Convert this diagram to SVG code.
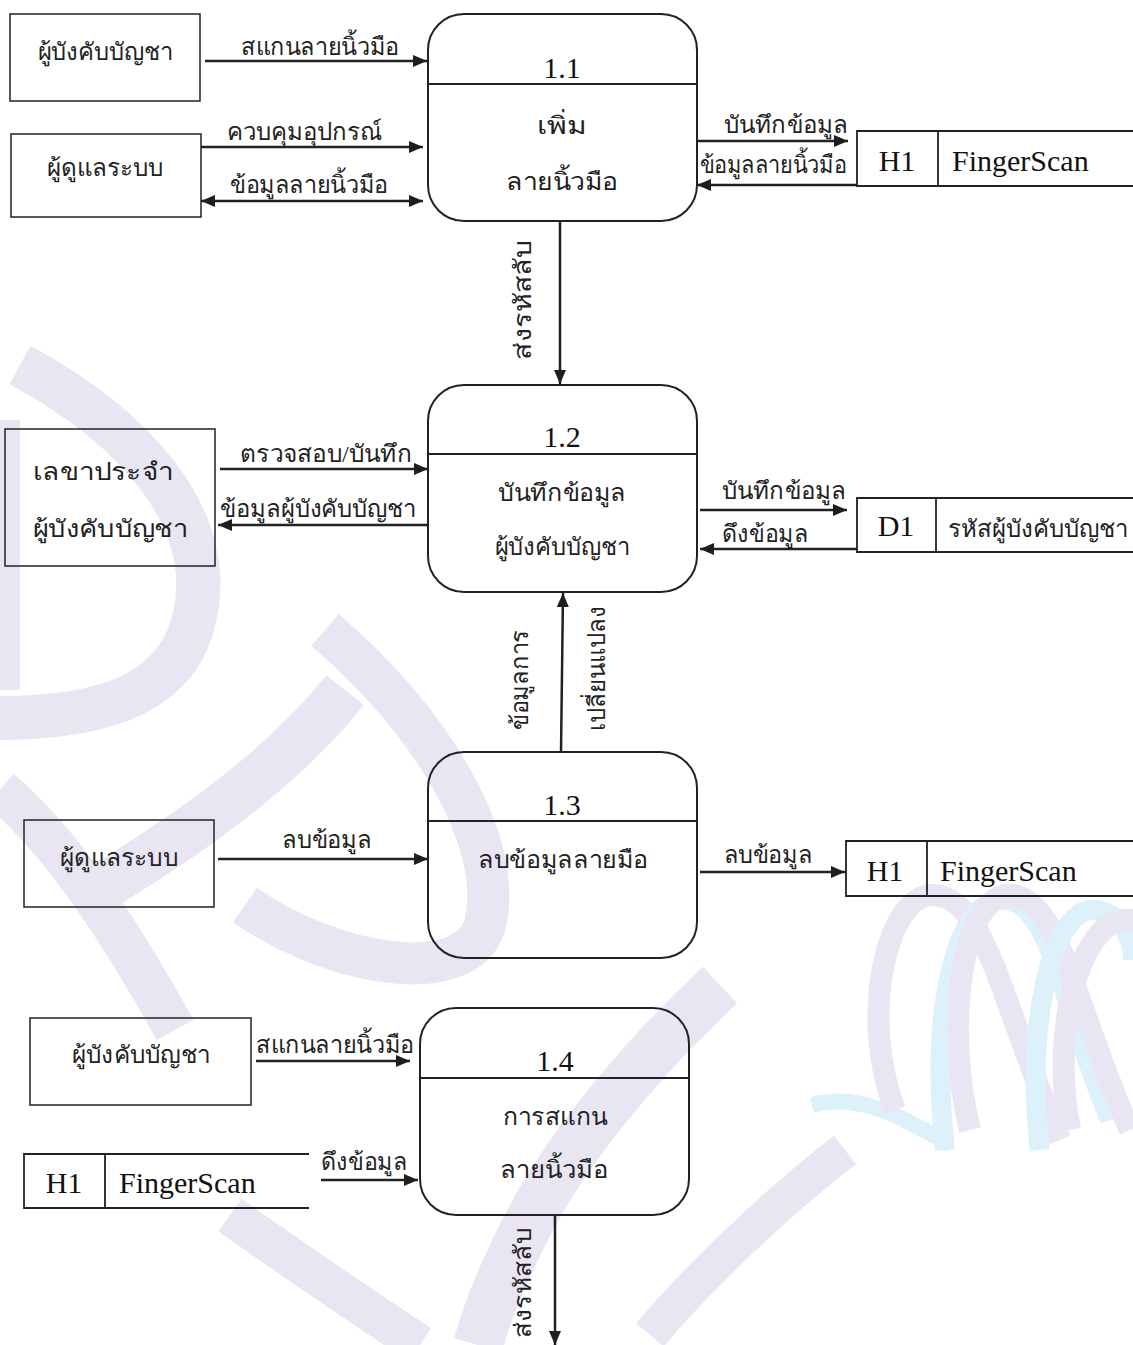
<svg xmlns="http://www.w3.org/2000/svg" width="1133" height="1345" viewBox="0 0 1133 1345">
  <defs>
    <marker id="arr" viewBox="0 0 14 12" refX="14" refY="6" markerWidth="14" markerHeight="12" markerUnits="userSpaceOnUse" orient="auto-start-reverse">
      <path d="M0,0 L14,6 L0,12 Z" fill="#1e1e1e"/>
    </marker>
    <style>
      .ent { fill: none; stroke: #222; stroke-width: 1.5; }
      .proc { fill: none; stroke: #222; stroke-width: 2; }
      .div { stroke: #222; stroke-width: 2; fill: none; }
      .st { stroke: #222; stroke-width: 1.8; fill: none; }
      .flow { stroke: #222; stroke-width: 2.5; fill: none; marker-end: url(#arr); }
      .both { marker-start: url(#arr); }
      .th { font-family: "Liberation Serif", "DejaVu Serif", "Noto Sans", serif; font-size: 24px; fill: #222; text-anchor: middle; }
      .lat { font-family: "Liberation Serif", "Times New Roman", serif; font-size: 30px; fill: #111; }
      .mid { text-anchor: middle; }
      .wm { fill: none; stroke: #e9e5f3; stroke-linecap: butt; }
      .wb { fill: none; stroke: #dcf1fa; stroke-linecap: butt; }
    </style>
  </defs>

  <rect width="1133" height="1345" fill="#fff"/>

  <!-- faint emblem in the background -->
  <g id="watermark">
    <path class="wm" stroke-width="44" d="M 20 365 C 140 430 215 520 195 615 C 180 690 110 718 0 718"/>
    <path class="wm" stroke-width="20" d="M 10 420 V 690"/>
    <path class="wm" stroke-width="42" d="M 325 630 C 430 720 505 840 485 925 C 465 990 330 965 245 905"/>
    <path class="wm" stroke-width="48" d="M 345 690 C 290 760 200 830 80 900"/>
    <path class="wm" stroke-width="42" d="M 0 790 C 60 840 120 930 175 1030"/>
    <path class="wm" stroke-width="50" d="M 720 985 C 640 1060 565 1150 525 1230 C 495 1290 485 1320 478 1345"/>
    <path class="wm" stroke-width="40" d="M 230 1215 C 300 1265 360 1305 420 1345"/>
    <path class="wm" stroke-width="36" d="M 845 1150 C 780 1200 700 1275 650 1335"/>
    <!-- ribbon loops -->
    <path class="wb" stroke-width="16" d="M 812 1105 C 860 1092 905 1118 950 1145"/>
    <path class="wm" stroke-width="22" d="M 895 1110 C 860 1020 885 900 930 895 C 985 892 1000 1000 1060 1140"/>
    <path class="wb" stroke-width="20" d="M 945 1150 C 930 1010 955 905 1000 900 C 1050 896 1060 1000 1110 1120"/>
    <path class="wm" stroke-width="22" d="M 970 1130 C 945 1030 960 905 1005 895 C 1060 890 1075 1010 1130 1130"/>
    <path class="wb" stroke-width="20" d="M 1040 1150 C 1025 1030 1050 915 1090 910 C 1120 908 1133 940 1133 960"/>
    <path class="wm" stroke-width="22" d="M 1070 1130 C 1050 1030 1080 930 1120 920 L 1133 920"/>
  </g>

  <!-- data flows -->
  <g id="connectors">
    <line class="flow" x1="205" y1="61" x2="427" y2="61"/>
    <line class="flow" x1="201" y1="147" x2="423" y2="147"/>
    <line class="flow both" x1="201" y1="201" x2="423" y2="201"/>
    <line class="flow" x1="697" y1="141" x2="848" y2="141"/>
    <line class="flow" x1="857" y1="185" x2="697" y2="185"/>
    <line class="flow" x1="560" y1="221" x2="560" y2="384"/>
    <line class="flow" x1="220" y1="469" x2="428" y2="469"/>
    <line class="flow" x1="428" y1="525" x2="218" y2="525"/>
    <line class="flow" x1="700" y1="510" x2="847" y2="510"/>
    <line class="flow" x1="857" y1="549" x2="700" y2="549"/>
    <line class="flow" x1="561" y1="752" x2="563" y2="593"/>
    <line class="flow" x1="218" y1="859" x2="428" y2="859"/>
    <line class="flow" x1="700" y1="872" x2="845" y2="872"/>
    <line class="flow" x1="256" y1="1061" x2="410" y2="1061"/>
    <line class="flow" x1="321" y1="1180" x2="418" y2="1180"/>
    <line class="flow" x1="555" y1="1215" x2="555" y2="1345"/>

    <text class="th" x="320" y="55" textLength="158" lengthAdjust="spacingAndGlyphs">สแกนลายนิ้วมือ</text>
    <text class="th" x="304" y="140" textLength="155" lengthAdjust="spacingAndGlyphs">ควบคุมอุปกรณ์</text>
    <text class="th" x="309" y="193" textLength="158" lengthAdjust="spacingAndGlyphs">ข้อมูลลายนิ้วมือ</text>
    <text class="th" x="786" y="133" textLength="124" lengthAdjust="spacingAndGlyphs">บันทึกข้อมูล</text>
    <text class="th" x="773" y="173" textLength="147" lengthAdjust="spacingAndGlyphs">ข้อมูลลายนิ้วมือ</text>
    <text class="th" transform="translate(531,300) rotate(-90)" textLength="120" lengthAdjust="spacingAndGlyphs">ส่งรหัสลับ</text>
    <text class="th" x="326" y="462" textLength="172" lengthAdjust="spacingAndGlyphs">ตรวจสอบ/บันทึก</text>
    <text class="th" x="318" y="517" textLength="196" lengthAdjust="spacingAndGlyphs">ข้อมูลผู้บังคับบัญชา</text>
    <text class="th" x="784" y="499" textLength="124" lengthAdjust="spacingAndGlyphs">บันทึกข้อมูล</text>
    <text class="th" x="765" y="542" textLength="86" lengthAdjust="spacingAndGlyphs">ดึงข้อมูล</text>
    <text class="th" transform="translate(528,680) rotate(-90)" textLength="100" lengthAdjust="spacingAndGlyphs">ข้อมูลการ</text>
    <text class="th" transform="translate(605,668) rotate(-90)" textLength="125" lengthAdjust="spacingAndGlyphs">เปลี่ยนแปลง</text>
    <text class="th" x="327" y="848" textLength="90" lengthAdjust="spacingAndGlyphs">ลบข้อมูล</text>
    <text class="th" x="768" y="863" textLength="89" lengthAdjust="spacingAndGlyphs">ลบข้อมูล</text>
    <text class="th" x="335" y="1053" textLength="158" lengthAdjust="spacingAndGlyphs">สแกนลายนิ้วมือ</text>
    <text class="th" x="364" y="1170" textLength="86" lengthAdjust="spacingAndGlyphs">ดึงข้อมูล</text>
    <text class="th" transform="translate(531,1283) rotate(-90)" textLength="110" lengthAdjust="spacingAndGlyphs">ส่งรหัสลับ</text>
  </g>

  <!-- external entities -->
  <g id="ent-commander-1">
    <rect class="ent" x="10" y="14" width="190" height="87"/>
    <text class="th" x="105" y="60" textLength="135" lengthAdjust="spacingAndGlyphs">ผู้บังคับบัญชา</text>
  </g>
  <g id="ent-admin-1">
    <rect class="ent" x="11" y="134" width="190" height="83"/>
    <text class="th" x="105" y="176" textLength="117" lengthAdjust="spacingAndGlyphs">ผู้ดูแลระบบ</text>
  </g>
  <g id="ent-secretary">
    <rect class="ent" x="5" y="429" width="210" height="137"/>
    <text class="th" x="103" y="480" textLength="140" lengthAdjust="spacingAndGlyphs">เลขาประจำ</text>
    <text class="th" x="110" y="537" textLength="155" lengthAdjust="spacingAndGlyphs">ผู้บังคับบัญชา</text>
  </g>
  <g id="ent-admin-2">
    <rect class="ent" x="24" y="820" width="190" height="87"/>
    <text class="th" x="119" y="866" textLength="118" lengthAdjust="spacingAndGlyphs">ผู้ดูแลระบบ</text>
  </g>
  <g id="ent-commander-2">
    <rect class="ent" x="30" y="1018" width="221" height="87"/>
    <text class="th" x="141" y="1063" textLength="138" lengthAdjust="spacingAndGlyphs">ผู้บังคับบัญชา</text>
  </g>

  <!-- processes -->
  <g id="proc-1-1">
    <rect class="proc" x="428" y="14" width="269" height="207" rx="36"/>
    <line class="div" x1="428" y1="84" x2="697" y2="84"/>
    <text class="lat mid" x="562" y="78" font-size="28">1.1</text>
    <text class="th" x="562" y="134" textLength="50" lengthAdjust="spacingAndGlyphs">เพิ่ม</text>
    <text class="th" x="562" y="190" textLength="112" lengthAdjust="spacingAndGlyphs">ลายนิ้วมือ</text>
  </g>
  <g id="proc-1-2">
    <rect class="proc" x="428" y="385" width="269" height="207" rx="36"/>
    <line class="div" x1="428" y1="454" x2="697" y2="454"/>
    <text class="lat mid" x="562" y="447" font-size="28">1.2</text>
    <text class="th" x="562" y="501" textLength="128" lengthAdjust="spacingAndGlyphs">บันทึกข้อมูล</text>
    <text class="th" x="562" y="555" textLength="135" lengthAdjust="spacingAndGlyphs">ผู้บังคับบัญชา</text>
  </g>
  <g id="proc-1-3">
    <rect class="proc" x="428" y="752" width="269" height="206" rx="36"/>
    <line class="div" x1="428" y1="821" x2="697" y2="821"/>
    <text class="lat mid" x="562" y="815" font-size="28">1.3</text>
    <text class="th" x="563" y="868" textLength="170" lengthAdjust="spacingAndGlyphs">ลบข้อมูลลายมือ</text>
  </g>
  <g id="proc-1-4">
    <rect class="proc" x="420" y="1008" width="269" height="207" rx="36"/>
    <line class="div" x1="420" y1="1078" x2="689" y2="1078"/>
    <text class="lat mid" x="555" y="1071" font-size="28">1.4</text>
    <text class="th" x="555" y="1125" textLength="105" lengthAdjust="spacingAndGlyphs">การสแกน</text>
    <text class="th" x="554" y="1178" textLength="108" lengthAdjust="spacingAndGlyphs">ลายนิ้วมือ</text>
  </g>

  <!-- data stores -->
  <g id="store-h1-top">
    <path class="st" d="M1133 131 H857 V186 H1133 M938 131 V186"/>
    <text class="lat mid" x="897" y="171">H1</text>
    <text class="lat" x="952" y="171">FingerScan</text>
  </g>
  <g id="store-d1">
    <path class="st" d="M1133 498 H857 V552 H1133 M936 498 V552"/>
    <text class="lat mid" x="896" y="536">D1</text>
    <text class="th" x="948" y="537" font-size="26" style="text-anchor:start">รหัสผู้บังคับบัญชา</text>
  </g>
  <g id="store-h1-mid">
    <path class="st" d="M1133 841 H846 V896 H1133 M927 841 V896"/>
    <text class="lat mid" x="885" y="881">H1</text>
    <text class="lat" x="940" y="881">FingerScan</text>
  </g>
  <g id="store-h1-bottom">
    <path class="st" d="M309 1154 H24 V1208 H309 M105 1154 V1208"/>
    <text class="lat mid" x="64" y="1193">H1</text>
    <text class="lat" x="119" y="1193">FingerScan</text>
  </g>
</svg>
